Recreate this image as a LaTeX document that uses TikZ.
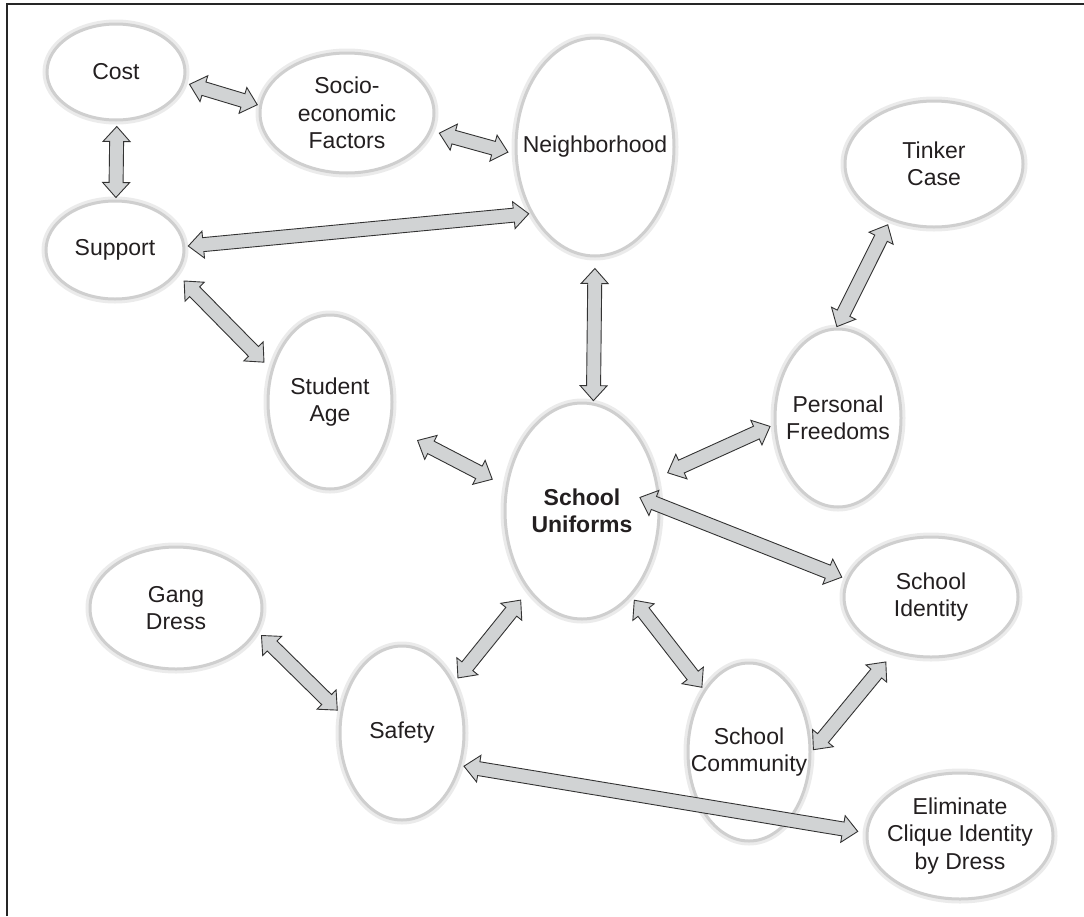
\documentclass[tikz,border=0pt]{standalone}
\usepackage{fontspec}
\setmainfont{Liberation Sans}
\usetikzlibrary{shapes.geometric, calc}
\definecolor{arrowfill}{RGB}{209,211,212}
\definecolor{inktext}{RGB}{35,31,32}

\def\headlen{15pt}
\def\headwid{13.5pt}
\def\shaftwid{7pt}

\tikzset{
  bubble/.style={ellipse, fill=white, draw=black!19, line width=3pt, inner sep=0pt,
                 preaction={draw=black!8, line width=9pt}},
  lbl/.style={align=center, text=inktext, font=\fontsize{23}{27.5}\selectfont},
  lblbold/.style={lbl, font=\fontsize{23}{27.5}\selectfont\bfseries},
  linkarrow/.style={fill=arrowfill, draw=black!80, line width=0.9pt, line join=miter},
}

% block arrow with two heads, [gap]{from}[gap]{to}
\NewDocumentCommand{\linkarrow}{O{4pt} m O{4pt} m}{%
  \path[linkarrow] let \p1=($(#2)!#1!(#4)$), \p2=($(#4)!#3!(#2)$),
      \n1={atan2(\y2-\y1,\x2-\x1)} in
    (\p1)
    -- ($(\p1)+(\n1:\headlen)+(\n1+90:\headwid)$)
    -- ($(\p1)+(\n1:\headlen)+(\n1+90:\shaftwid)$)
    -- ($(\p2)+(\n1+180:\headlen)+(\n1+90:\shaftwid)$)
    -- ($(\p2)+(\n1+180:\headlen)+(\n1+90:\headwid)$)
    -- (\p2)
    -- ($(\p2)+(\n1+180:\headlen)+(\n1-90:\headwid)$)
    -- ($(\p2)+(\n1+180:\headlen)+(\n1-90:\shaftwid)$)
    -- ($(\p1)+(\n1:\headlen)+(\n1-90:\shaftwid)$)
    -- ($(\p1)+(\n1:\headlen)+(\n1-90:\headwid)$)
    -- cycle;}

\begin{document}
\begin{tikzpicture}[x=1pt, y=-1pt]
  \useasboundingbox (0,0) rectangle (1084,916);
  \draw[black!85, line width=1.2pt] (7,916) -- (7,4) -- (1084,4);

  \node[bubble, minimum width=138pt, minimum height=96pt, label={[lbl]center:Cost}] (cost) at (116,72) {};
  \node[bubble, minimum width=174pt, minimum height=120pt, label={[lbl]center:{Socio-\\economic\\Factors}}] (socio) at (347,113) {};
  \node[bubble, minimum width=158pt, minimum height=218pt, label={[lbl]center:Neighborhood}] (nbhd) at (595,147) {};
  \node[bubble, minimum width=178pt, minimum height=126pt, label={[lbl]center:{Tinker\\Case}}] (tinker) at (934,164) {};
  \node[bubble, minimum width=138pt, minimum height=98pt, label={[lbl]center:Support}] (support) at (115,250) {};
  \node[bubble, minimum width=124pt, minimum height=174pt, label={[lbl]center:{Student\\Age}}] (age) at (330,402) {};
  \node[bubble, minimum width=126pt, minimum height=178pt, label={[lbl]center:{Personal\\Freedoms}}] (freedoms) at (838,418) {};
  \node[bubble, minimum width=154pt, minimum height=216pt, label={[lblbold]center:{School\\Uniforms}}] (uniforms) at (582,511) {};
  \node[bubble, minimum width=174pt, minimum height=120pt, label={[lbl]center:{School\\Identity}}] (identity) at (931,597) {};
  \node[bubble, minimum width=172pt, minimum height=122pt, label={[lbl]center:{Gang\\Dress}}] (gang) at (176,608) {};
  \node[bubble, minimum width=124pt, minimum height=174pt, label={[lbl]center:Safety}] (safety) at (402,733) {};
  \node[bubble, minimum width=122pt, minimum height=178pt, label={[lbl]center:{School\\Community}}] (community) at (749,752) {};
  \node[bubble, minimum width=186pt, minimum height=126pt, label={[lbl]center:{Eliminate\\Clique Identity\\by Dress}}] (clique) at (960,836) {};

  \linkarrow[5pt]{cost.-9}[2pt]{socio.175}
  \linkarrow[5pt]{cost.-89}[2pt]{support.89}
  \linkarrow[8pt]{socio.-12}[7pt]{nbhd.185}
  \linkarrow[3pt]{support.3}[2pt]{nbhd.226}
  \linkarrow[11pt]{nbhd.-90}[2pt]{uniforms.84}
  \linkarrow[10pt]{support.-21}[10pt]{age.151}
  \linkarrow[30pt]{age.-22}[15pt]{uniforms.162}
  \linkarrow[5pt]{tinker.232}[1pt]{freedoms.91}
  \linkarrow[4pt]{freedoms.186}[12pt]{uniforms.24}
  \linkarrow[-22pt]{uniforms.4}[5pt]{identity.168}
  \linkarrow[12pt]{uniforms.236}[6pt]{safety.44}
  \linkarrow[5pt]{uniforms.-60}[3pt]{community.126}
  \linkarrow[6pt]{gang.-16}[4pt]{safety.162}
  \linkarrow[12pt]{identity.236}[3pt]{community.0}
  \linkarrow[3pt]{safety.-29}[8pt]{clique.178}
\end{tikzpicture}
\end{document}
